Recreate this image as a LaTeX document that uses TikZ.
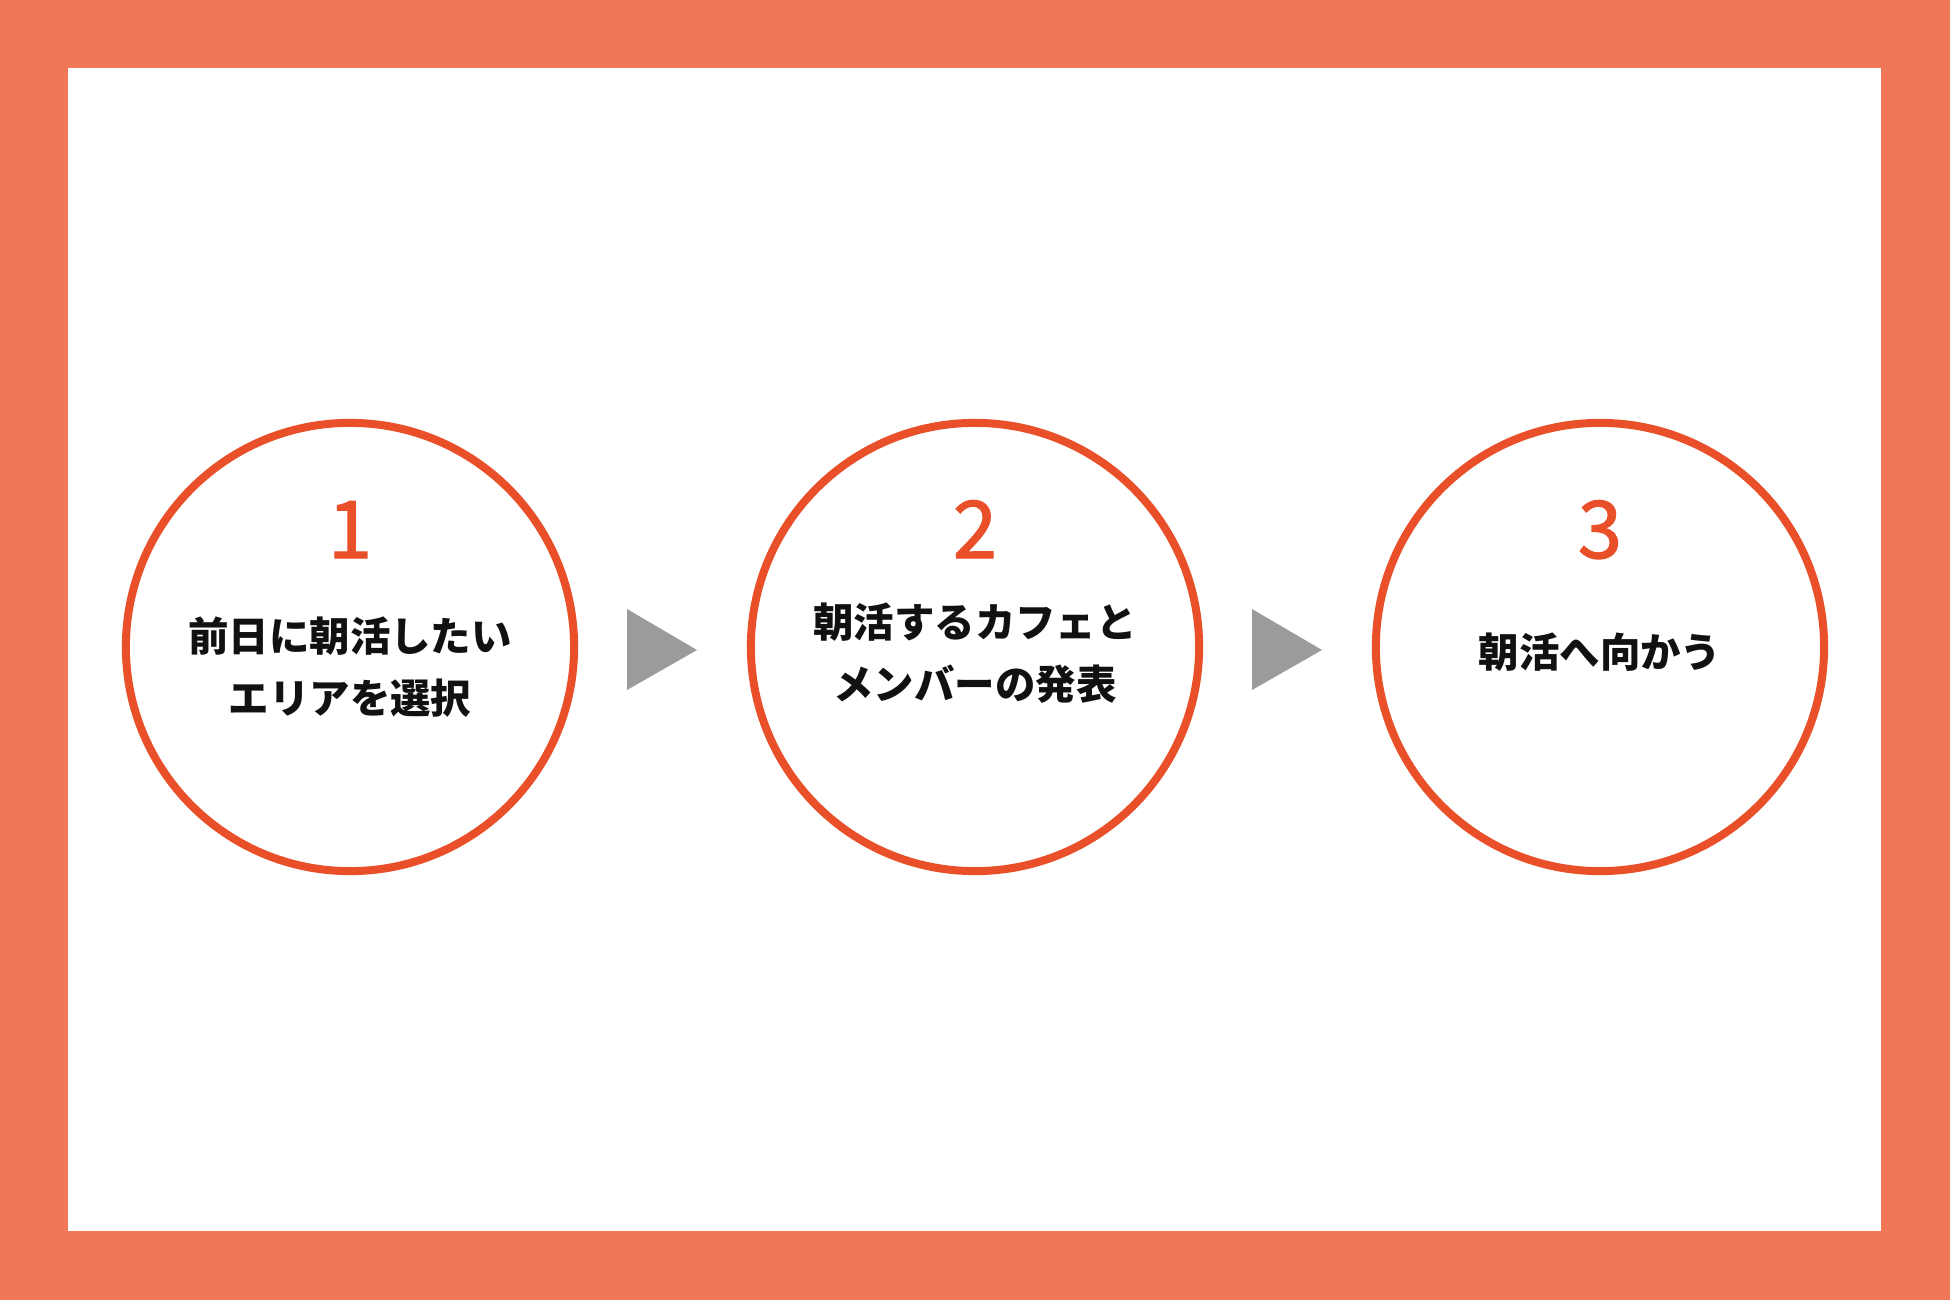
\documentclass[tikz,border=0pt]{standalone}
\usepackage{fontspec}
\newfontfamily\jp{Noto Sans CJK JP}
\newfontfamily\jpnum[FakeBold=1.6]{Noto Sans CJK JP}
\definecolor{frame}{HTML}{F07856}
\definecolor{ring}{HTML}{E9502A}
\definecolor{arrowgray}{HTML}{9B9B9B}
\definecolor{ink}{HTML}{111111}
\tikzset{
  ringc/.style={draw=ring, line width=0.08cm, fill=white},
  numtxt/.style={text=ring, font=\jpnum\fontsize{22.6}{26}\selectfont, inner sep=0pt, anchor=base},
  bodytxt/.style={text=ink, font=\jp\bfseries\fontsize{11.5}{17.5}\selectfont, align=center, inner sep=0pt},
  tri/.style={fill=arrowgray, draw=none}
}
\begin{document}
\begin{tikzpicture}[x=0.01cm,y=-0.01cm]
\useasboundingbox (0,0) rectangle (1950,1300);
\fill[frame] (0,0) rectangle (1950,1300);
\fill[white] (68,68) rectangle (1881,1231);
% circles
\node[ringc, circle, minimum size=4.48cm, inner sep=0pt] (c1) at (350,647) {};
\node[ringc, circle, minimum size=4.48cm, inner sep=0pt] (c2) at (975,647) {};
\node[ringc, circle, minimum size=4.48cm, inner sep=0pt] (c3) at (1600,647) {};
% numbers
\node[numtxt] (n1) at (350,558) {1};
\node[numtxt] (n2) at (975,558) {2};
\node[numtxt] (n3) at (1600,558) {3};
% texts
\node[bodytxt] (t1) at (350,667) {前日に朝活したい\\エリアを選択};
\node[bodytxt] (t2) at (975,653) {朝活するカフェと\\メンバーの発表};
\node[bodytxt] (t3) at (1600,652) {朝活へ向かう};
% arrows
\coordinate (a1t) at (627,609);
\coordinate (a1b) at (627,690);
\coordinate (a1p) at (697,650);
\fill[tri] (a1t) -- (a1p) -- (a1b) -- cycle;
\coordinate (a2t) at (1252,609);
\coordinate (a2b) at (1252,690);
\coordinate (a2p) at (1322,650);
\fill[tri] (a2t) -- (a2p) -- (a2b) -- cycle;
\end{tikzpicture}
\end{document}
